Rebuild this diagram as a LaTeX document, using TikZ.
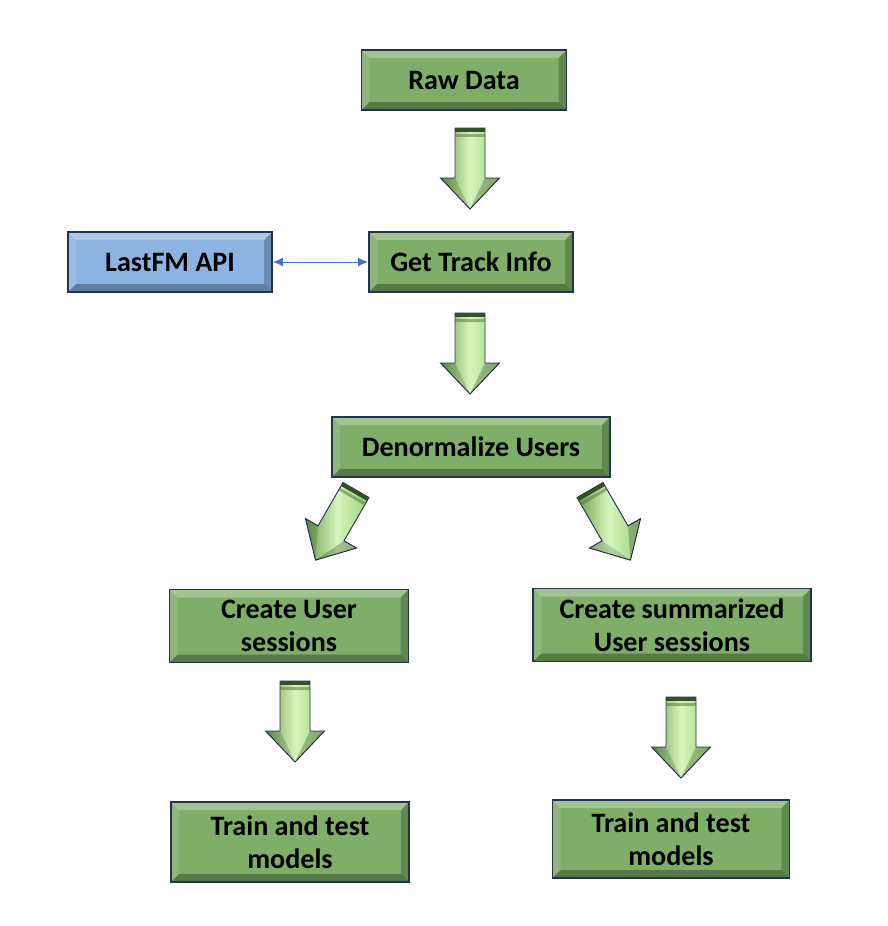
\documentclass[tikz,border=0pt]{standalone}
\usepackage{fontspec}
\setmainfont{Carlito}
\usepackage{tikz}
\usetikzlibrary{calc,arrows.meta}
\newlength\pxu
\setlength\pxu{0.03cm}
\definecolor{boxgreen}{HTML}{7EAE68}
\definecolor{boxblue}{HTML}{8DB3E2}
\definecolor{edge}{HTML}{23324F}
\definecolor{arrowdark}{HTML}{6E9E4C}
\definecolor{arrowlight}{HTML}{D6F7BC}
\definecolor{arrowmid}{HTML}{9CCF7C}
\definecolor{arrowcap}{HTML}{34502A}
\definecolor{link}{HTML}{4472C4}
\tikzset{
  bevel/.style={path picture={
    \path (path picture bounding box.north west) coordinate (bnw)
          (path picture bounding box.north east) coordinate (bne)
          (path picture bounding box.south west) coordinate (bsw)
          (path picture bounding box.south east) coordinate (bse);
    \fill[white, opacity=0.28] (bnw) -- (bne) -- ($(bne)+(-8,8)$) -- ($(bnw)+(8,8)$) -- cycle;
    \fill[white, opacity=0.12] (bnw) -- ($(bnw)+(8,8)$) -- ($(bsw)+(8,-8)$) -- (bsw) -- cycle;
    \fill[black, opacity=0.30] (bsw) -- ($(bsw)+(8,-8)$) -- ($(bse)+(-8,-8)$) -- (bse) -- cycle;
    \fill[black, opacity=0.22] (bne) -- ($(bne)+(-8,8)$) -- ($(bse)+(-8,-8)$) -- (bse) -- cycle;
  }},
  box/.style={draw=edge, line width=1.4pt, bevel, align=center,
    font=\bfseries\fontsize{24}{28}\selectfont},
  greenbox/.style={box, fill=boxgreen},
  bluebox/.style={box, fill=boxblue},
  link/.style={draw=link, line width=0.7pt, {Latex[length=3mm,width=2.6mm]}-{Latex[length=3mm,width=2.6mm]}},
  blockarrow/.pic={
    \path[draw=edge, line width=0.8pt, left color=arrowdark, right color=arrowmid, middle color=arrowlight]
      (-15,0) -- (15,0) -- (15,50) -- (29.5,50) -- (0,81) -- (-29.5,50) -- (-15,50) -- cycle;
    \fill[black, opacity=0.15] (-29.5,50) -- (-15,50) -- (0,81) -- cycle;
    \fill[black, opacity=0.22] (29.5,50) -- (15,50) -- (0,81) -- cycle;
    \fill[arrowcap] (-15,0) rectangle (15,4);
    \fill[arrowdark!70!black, opacity=0.5] (-15,6) rectangle (15,9);
  },
}
\begin{document}
\begin{tikzpicture}[x=\pxu, y=-\pxu]
\useasboundingbox (0,0) rectangle (887,926);
% boxes
\node[greenbox, minimum width=205\pxu, minimum height=60\pxu] (raw) at (464,80) {Raw Data};
\node[greenbox, minimum width=204\pxu, minimum height=60\pxu] (track) at (471,262) {Get Track Info};
\node[bluebox, minimum width=204\pxu, minimum height=60\pxu] (lastfm) at (170,262) {LastFM API};
\node[greenbox, minimum width=278\pxu, minimum height=60\pxu] (denorm) at (471,447) {Denormalize Users};
\node[greenbox, minimum width=239\pxu, minimum height=73\pxu] (sessL) at (289,626) {Create User\\sessions};
\node[greenbox, minimum width=278\pxu, minimum height=73\pxu] (sessR) at (672,625) {Create summarized\\User sessions};
\node[greenbox, minimum width=238\pxu, minimum height=80\pxu] (trainL) at (290,842) {Train and test\\models};
\node[greenbox, minimum width=237\pxu, minimum height=78\pxu] (trainR) at (671,839) {Train and test\\models};
% API link
\draw[link] (lastfm) -- (track);
% block arrows
\foreach \x/\y/\r in {470/128/0, 470/313/0, 356/490/-30, 590/490/30, 295/681/0, 681/697/0}{
  \pic[rotate=\r] at (\x,\y) {blockarrow};
}
\end{tikzpicture}
\end{document}
